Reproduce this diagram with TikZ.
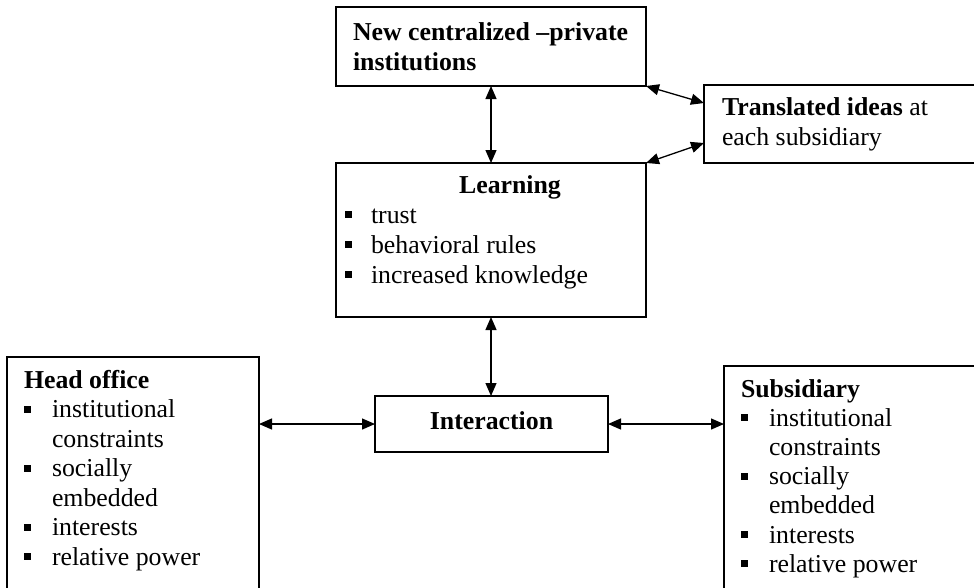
\documentclass[tikz,border=0pt]{standalone}
\usepackage{fontspec}
\setmainfont{Liberation Serif}
\usetikzlibrary{arrows.meta}
\newcommand\bul[1]{\makebox[#1][l]{\raisebox{5pt}{\rule{7pt}{7pt}}}}
\begin{document}
\begin{tikzpicture}[x=1pt,y=-1pt,
  box/.style={draw,line width=1.2pt,rectangle,inner sep=0pt,outer sep=0pt,anchor=north west},
  txt/.style={inner sep=0pt,outer sep=0pt,anchor=base west,font=\fontsize{25.8}{29.5}\selectfont},
  conn/.style={line width=1.3pt,{Triangle[length=13pt,width=11pt]}-{Triangle[length=13pt,width=11pt]}}]
\useasboundingbox (0,0) rectangle (974,587);
\clip (0,0) rectangle (974,587);
\fill[white] (0,0) rectangle (974,587);
% boxes
\node[box,minimum width=310pt,minimum height=79pt] (new) at (336,7) {};
\node[box,minimum width=290pt,minimum height=78pt] (trans) at (704,85) {};
\node[box,minimum width=310pt,minimum height=154pt] (learn) at (336,163) {};
\node[box,minimum width=233pt,minimum height=56pt] (inter) at (375,396) {};
\node[box,minimum width=252pt,minimum height=250pt] (head) at (7,357) {};
\node[box,minimum width=270pt,minimum height=240pt] (sub) at (724,366) {};
% texts
\node[txt] (newt) at (353,40) {\parbox[t]{290pt}{\fontsize{25.8}{30.5}\selectfont\bfseries New centralized –private\\institutions}};
\node[txt] (transt) at (722,115) {\parbox[t]{260pt}{\fontsize{25.8}{30}\selectfont\textbf{Translated ideas} at\\each subsidiary}};
\node[txt,anchor=base] (learnh) at (510,193) {\textbf{Learning}};
\node[txt] (learnt) at (345,223) {\parbox[t]{290pt}{\fontsize{25.8}{30}\selectfont\bul{26pt}trust\\\bul{26pt}behavioral rules\\\bul{26pt}increased knowledge}};
\node[txt,anchor=base] (intert) at (491.5,429) {\textbf{Interaction}};
\node[txt] (headt) at (24,388) {\parbox[t]{230pt}{\fontsize{25.8}{29.5}\selectfont\textbf{Head office}\\\bul{28pt}institutional\\\hspace*{28pt}constraints\\\bul{28pt}socially\\\hspace*{28pt}embedded\\\bul{28pt}interests\\\bul{28pt}relative power}};
\node[txt] (subt) at (741,397) {\parbox[t]{230pt}{\fontsize{25.8}{29.2}\selectfont\textbf{Subsidiary}\\\bul{28pt}institutional\\\hspace*{28pt}constraints\\\bul{28pt}socially\\\hspace*{28pt}embedded\\\bul{28pt}interests\\\bul{28pt}relative power}};
% connectors
\draw[conn] (new.south) -- (learn.north);
\draw[conn] (learn.south) -- (learn.south |- inter.north);
\draw[conn] (inter.west -| head.east) -- (inter.west);
\draw[conn] (inter.east) -- (inter.east -| sub.west);
\draw[conn] (new.south east) -- ([yshift=21pt]trans.west);
\draw[conn] (learn.north east) -- ([yshift=-19pt]trans.west);
\end{tikzpicture}
\end{document}
